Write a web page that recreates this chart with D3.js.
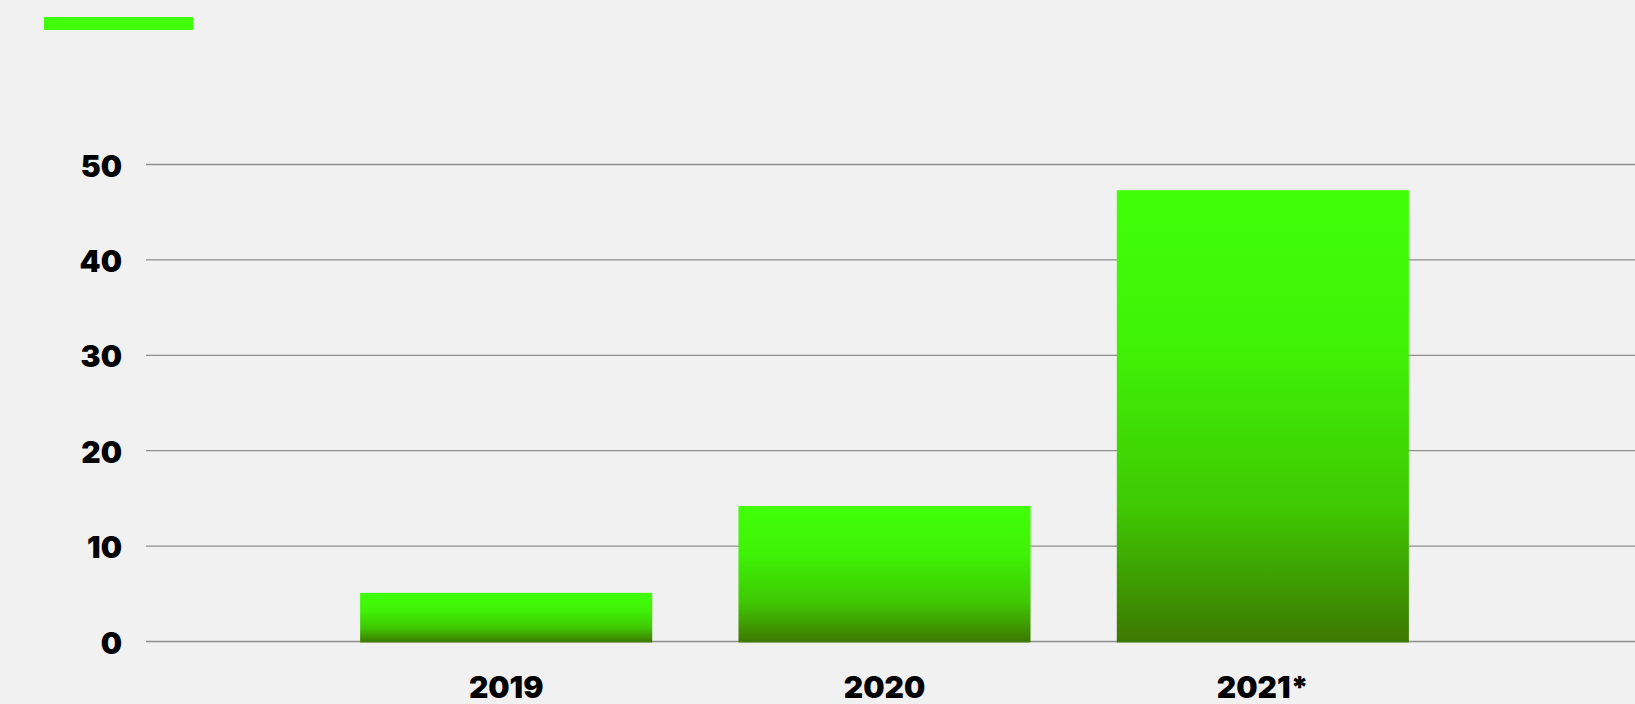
<!DOCTYPE html>
<html>
<head>
<meta charset="utf-8">
<script src="https://cdnjs.cloudflare.com/ajax/libs/d3/7.8.5/d3.min.js"></script>
<style>
  html, body { margin: 0; padding: 0; background: #f1f1f1; }
  svg { display: block; }
  .tick-label { font-family: Inter, "Open Sans", sans-serif; font-weight: 900; font-size: 30px; fill: #000; }
</style>
</head>
<body>
<div class="chart"></div>
<script>
// chart data
var years = ['2019', '2020', '2021*'];
var values = [5.1, 14.2, 47.3];
var yTicks = [0, 10, 20, 30, 40, 50];

var width = 1635;
var height = 704;

var svg = d3.select('.chart')
  .append('svg')
  .attr('width', width)
  .attr('height', height);

// gradient used by every bar (top bright, bottom dark)
var grad = svg.append('defs').append('linearGradient')
  .attr('id', 'barGrad')
  .attr('x1', 0).attr('y1', 0).attr('x2', 0).attr('y2', 1);
grad.append('stop').attr('offset', '0%').attr('stop-color', '#40ff08');
grad.append('stop').attr('offset', '35%').attr('stop-color', '#3ff206');
grad.append('stop').attr('offset', '70%').attr('stop-color', '#3fc903');
grad.append('stop').attr('offset', '100%').attr('stop-color', '#3d7800');

// little legend swatch up top
svg.append('rect')
  .attr('x', 44).attr('y', 17)
  .attr('width', 149).attr('height', 13)
  .attr('fill', '#40ff08');

var y = d3.scaleLinear().domain([0, 50]).range([641.5, 164.5]);

var x = d3.scaleBand()
  .domain(years)
  .range([317, 1452])
  .paddingInner(0.228)
  .paddingOuter(0.114);

// horizontal grid lines
svg.append('g')
  .selectAll('line')
  .data(yTicks)
  .enter().append('line')
  .attr('x1', 146).attr('x2', width)
  .attr('y1', function(d) { return y(d); })
  .attr('y2', function(d) { return y(d); })
  .attr('stroke', '#8e8e8e')
  .attr('stroke-width', 1.3);

// y labels
svg.append('g')
  .selectAll('text')
  .data(yTicks)
  .enter().append('text')
  .attr('class', 'tick-label')
  .attr('x', 122)
  .attr('y', function(d) { return y(d); })
  .attr('dy', '0.4em')
  .attr('text-anchor', 'end')
  .text(function(d) { return d; });

// bars
svg.append('g')
  .selectAll('rect')
  .data(values)
  .enter().append('rect')
  .attr('x', function(d, i) { return x(years[i]); })
  .attr('y', function(d) { return y(d); })
  .attr('width', x.bandwidth())
  .attr('height', function(d) { return y(0) - y(d) + 1; })
  .attr('fill', 'url(#barGrad)');

// x labels
svg.append('g')
  .selectAll('text')
  .data(years)
  .enter().append('text')
  .attr('class', 'tick-label')
  .attr('x', function(d) { return x(d) + x.bandwidth() / 2; })
  .attr('y', 698)
  .attr('text-anchor', 'middle')
  .text(function(d) { return d; });
</script>
</body>
</html>
